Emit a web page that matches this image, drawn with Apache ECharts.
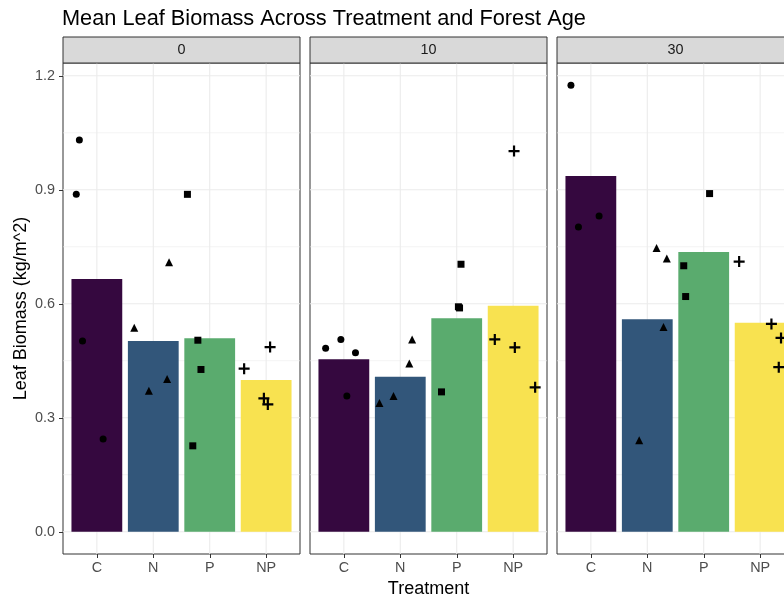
<!DOCTYPE html>
<html>
<head>
<meta charset="utf-8">
<script src="https://cdn.jsdelivr.net/npm/echarts@6/dist/echarts.min.js"></script>
<style>
  html, body { margin: 0; padding: 0; background: #ffffff; }
  #chart { width: 784px; height: 600px; }
</style>
</head>
<body>
<div id="chart"></div>
<script>
// Facets (forest age) and treatments along each x axis
const forestAges = ['0', '10', '30'];
const treatments = ['C', 'N', 'P', 'NP'];
const xTicks = [1, 2, 3, 4];
const yTicks = [0, 0.3, 0.6, 0.9, 1.2];
const yMinorTicks = [0.15, 0.45, 0.75, 1.05];

// Mean leaf biomass (kg/m^2) per treatment C, N, P, NP
const meanAge0 = [0.665, 0.502, 0.509, 0.399];
const meanAge10 = [0.454, 0.408, 0.562, 0.595];
const meanAge30 = [0.936, 0.559, 0.736, 0.550];

// Plot-level measurements: [jittered treatment position, biomass]
const plotsAge0 = [
  [[0.69, 1.031], [0.635, 0.888], [0.746, 0.502], [1.111, 0.244]],
  [[1.663, 0.537], [1.922, 0.371], [2.245, 0.402], [2.28, 0.709]],
  [[2.605, 0.888], [2.79, 0.504], [2.845, 0.427], [2.70, 0.226]],
  [[3.61, 0.429], [4.07, 0.486], [3.96, 0.351], [4.03, 0.335]]
];
const plotsAge10 = [
  [[0.677, 0.483], [0.947, 0.506], [1.206, 0.471], [1.053, 0.357]],
  [[1.63, 0.339], [1.88, 0.357], [2.16, 0.443], [2.21, 0.506]],
  [[3.076, 0.704], [3.03, 0.592], [3.05, 0.589], [2.73, 0.368]],
  [[4.016, 1.002], [3.675, 0.506], [4.03, 0.485], [4.39, 0.380]]
];
const plotsAge30 = [
  [[0.647, 1.175], [0.78, 0.802], [1.146, 0.831]],
  [[2.164, 0.747], [2.346, 0.719], [2.287, 0.539], [1.857, 0.241]],
  [[3.104, 0.890], [2.646, 0.700], [2.68, 0.619]],
  [[3.628, 0.711], [4.20, 0.547], [4.37, 0.510], [4.33, 0.433]]
];

const means = [meanAge0, meanAge10, meanAge30];
const plots = [plotsAge0, plotsAge10, plotsAge30];

// Styling
const barColors = ['#35083F', '#32567A', '#5AAB6E', '#F8E250'];
const plusPath = 'path://M4,0H6V4H10V6H6V10H4V6H0V4H4Z';
const pointSymbols = ['circle', 'triangle', 'rect', plusPath];
const pointSizes = [7, 8, 7, 11];
const FONT = '"Liberation Sans", Arial, Helvetica, sans-serif';
const BAR_HALF = 0.45;
const X_MIN = 0.4, X_MAX = 4.6;
const TICK_LEN = 4;

// y range: data max plus 5% padding on both ends
let dataMax = 0;
means.forEach(m => m.forEach(v => { dataMax = Math.max(dataMax, v); }));
plots.forEach(p => p.forEach(t => t.forEach(pt => { dataMax = Math.max(dataMax, pt[1]); })));
const Y_PAD = dataMax * 0.05;
const Y_MIN = -Y_PAD, Y_MAX = dataMax + Y_PAD;

// Panel layout
const PANEL_LEFT = 63, PANEL_STEP = 247, PANEL_W = 237;
const PANEL_TOP = 63, PANEL_H = 491;
const STRIP_TOP = 37, STRIP_H = 26;

const grids = [], xAxes = [], yAxes = [], series = [], graphics = [];

forestAges.forEach((age, g) => {
  const left = PANEL_LEFT + g * PANEL_STEP;
  grids.push({
    left: left, top: PANEL_TOP, width: PANEL_W, height: PANEL_H,
    outerBoundsMode: 'none', containLabel: false,
    show: true, borderColor: '#333333', borderWidth: 1, backgroundColor: 'transparent'
  });

  xAxes.push({
    gridIndex: g, type: 'value', min: X_MIN, max: X_MAX, position: 'bottom',
    axisLine: { show: false, onZero: false },
    splitLine: { show: false },
    axisTick: { show: false },
    axisLabel: {
      customValues: xTicks,
      formatter: v => treatments[Math.round(v) - 1],
      color: '#4D4D4D', fontSize: 14.4, fontFamily: FONT, margin: 7
    },
    name: g === 1 ? 'Treatment' : '',
    nameLocation: 'middle', nameGap: 25,
    nameTextStyle: { fontSize: 18, color: '#000000', fontFamily: FONT }
  });

  yAxes.push({
    gridIndex: g, type: 'value', min: Y_MIN, max: Y_MAX, position: 'left',
    axisLine: { show: false, onZero: false },
    splitLine: { show: false },
    axisTick: { show: false },
    axisLabel: {
      show: g === 0, customValues: yTicks,
      formatter: v => v.toFixed(1),
      color: '#4D4D4D', fontSize: 14.4, fontFamily: FONT, margin: 8
    },
    name: g === 0 ? 'Leaf Biomass (kg/m^2)' : '',
    nameLocation: 'middle', nameGap: 33,
    nameTextStyle: { fontSize: 18, color: '#000000', fontFamily: FONT }
  });

  // Background grid lines: kind 0 = major y, 1 = minor y, 2 = x
  const gridData = []
    .concat(yTicks.map(v => [0, v]))
    .concat(yMinorTicks.map(v => [1, v]))
    .concat(xTicks.map(v => [2, v]));
  series.push({
    type: 'custom', xAxisIndex: g, yAxisIndex: g, silent: true, z: 1,
    data: gridData,
    encode: { x: -1, y: -1 },
    renderItem: (params, api) => {
      const kind = api.value(0), v = api.value(1);
      let a, b;
      if (kind === 2) { a = api.coord([v, Y_MIN]); b = api.coord([v, Y_MAX]); }
      else { a = api.coord([X_MIN, v]); b = api.coord([X_MAX, v]); }
      return {
        type: 'line',
        shape: { x1: a[0], y1: a[1], x2: b[0], y2: b[1] },
        style: { stroke: '#EBEBEB', lineWidth: kind === 1 ? 0.6 : 1.1 }
      };
    }
  });

  // Mean bars
  series.push({
    type: 'custom', xAxisIndex: g, yAxisIndex: g, silent: true, z: 2,
    data: means[g].map((v, i) => [i + 1, v]),
    encode: { x: 0, y: 1 },
    renderItem: (params, api) => {
      const x = api.value(0), v = api.value(1);
      const p0 = api.coord([x - BAR_HALF, v]);
      const p1 = api.coord([x + BAR_HALF, 0]);
      return {
        type: 'rect',
        shape: { x: p0[0], y: p0[1], width: p1[0] - p0[0], height: p1[1] - p0[1] },
        style: { fill: barColors[params.dataIndex] }
      };
    }
  });

  // Plot-level points
  treatments.forEach((t, i) => {
    series.push({
      type: 'scatter', xAxisIndex: g, yAxisIndex: g, silent: true, z: 3,
      symbol: pointSymbols[i], symbolSize: pointSizes[i], symbolKeepAspect: true,
      itemStyle: { color: '#000000', opacity: 1 },
      data: plots[g][i]
    });
  });

  // Facet strip
  graphics.push({
    type: 'rect',
    shape: { x: left, y: STRIP_TOP, width: PANEL_W, height: STRIP_H },
    style: { fill: '#D9D9D9', stroke: '#333333', lineWidth: 1 },
    z: 10
  });
  graphics.push({
    type: 'text',
    x: left + PANEL_W / 2, y: STRIP_TOP + STRIP_H / 2,
    style: { text: age, fill: '#1A1A1A', font: '14.4px ' + FONT, align: 'center', verticalAlign: 'middle' },
    z: 11
  });
});

const chart = echarts.init(document.getElementById('chart'), null, { renderer: 'canvas' });
chart.setOption({
  animation: false,
  backgroundColor: '#ffffff',
  title: {
    text: 'Mean Leaf Biomass Across Treatment and Forest Age',
    left: 57, top: 3,
    textStyle: { fontSize: 21.75, fontWeight: 'normal', color: '#000000', fontFamily: FONT }
  },
  grid: grids,
  xAxis: xAxes,
  yAxis: yAxes,
  series: series,
  graphic: { elements: graphics }
});

// Tick marks outside each panel, placed through the axes' own scales
const tickMarks = [];
forestAges.forEach((age, g) => {
  xTicks.forEach(v => {
    const p = chart.convertToPixel({ gridIndex: g }, [v, Y_MIN]);
    const x = Math.round(p[0]) + 0.5;
    tickMarks.push({
      type: 'line', silent: true, z: 12,
      shape: { x1: x, y1: p[1], x2: x, y2: p[1] + TICK_LEN },
      style: { stroke: '#333333', lineWidth: 1 }
    });
  });
  if (g === 0) {
    yTicks.forEach(v => {
      const p = chart.convertToPixel({ gridIndex: g }, [X_MIN, v]);
      const y = Math.round(p[1]) + 0.5;
      tickMarks.push({
        type: 'line', silent: true, z: 12,
        shape: { x1: p[0] - TICK_LEN, y1: y, x2: p[0], y2: y },
        style: { stroke: '#333333', lineWidth: 1 }
      });
    });
  }
});
chart.setOption({ graphic: { elements: graphics.concat(tickMarks) } });
</script>
</body>
</html>
